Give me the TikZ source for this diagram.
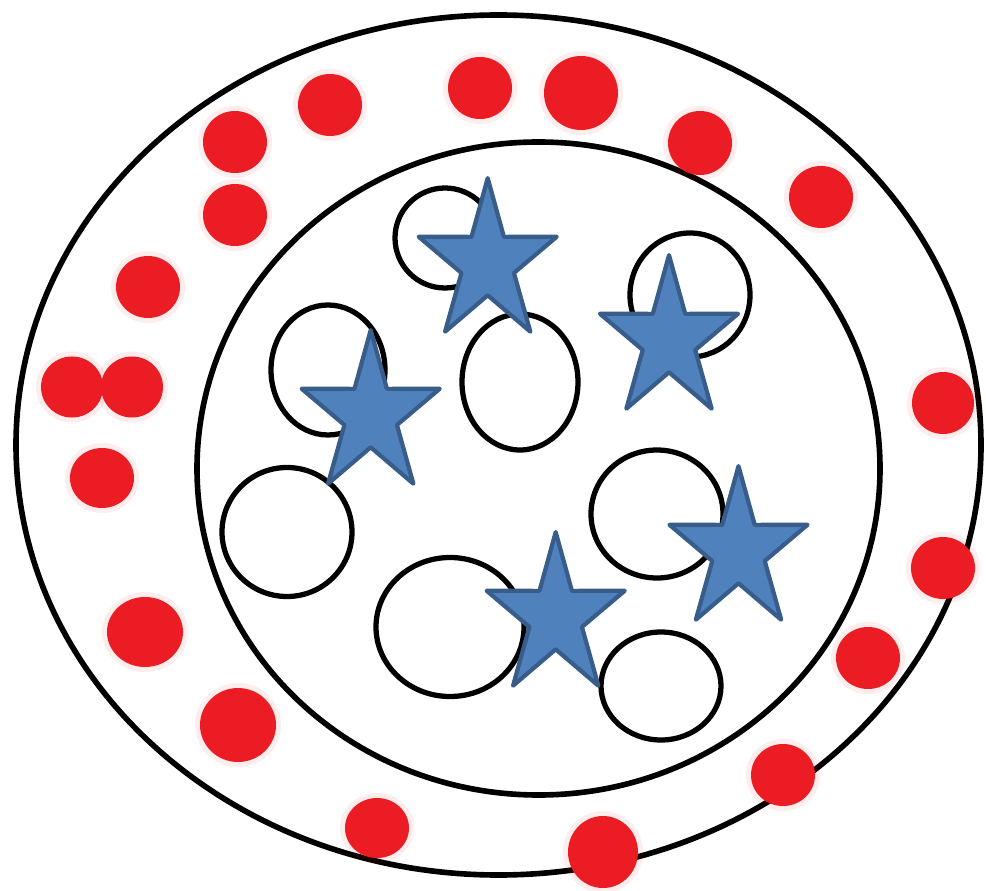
\documentclass[tikz,border=0pt]{standalone}
\definecolor{dotred}{RGB}{236,28,36}
\definecolor{starfill}{RGB}{79,129,189}
\definecolor{starline}{RGB}{56,93,138}
\begin{document}
\begin{tikzpicture}[x=0.02cm,y=-0.02cm,
  ring/.style={draw=black,line width=3.2pt},
  cell/.style={draw=black,line width=3pt},
  dot/.style={fill=dotred},
  halo/.style={fill=dotred,opacity=0.08},
  bluestar/.pic={\draw[fill=starfill,draw=starline,line width=2.4pt,line join=round]
    (0,-84.9) -- (16.22,-26.13) -- (69.05,-26.25) -- (26.25,9.98) -- (42.67,68.72)
    -- (0,32.29) -- (-42.67,68.72) -- (-26.25,9.98) -- (-69.05,-26.25) -- (-16.22,-26.13) -- cycle;}]
\useasboundingbox (0,0) rectangle (986,891);
\fill[white] (0,0) rectangle (986,891);
% rings
\draw[ring] (498.5,445) ellipse [x radius=482.5, y radius=430];
\draw[ring] (538.5,468.5) ellipse [x radius=341.5, y radius=326.5];
% cells
\draw[cell] (445,238) ellipse [x radius=50, y radius=50];
\draw[cell] (690,295) ellipse [x radius=60, y radius=62];
\draw[cell] (328,370) ellipse [x radius=57, y radius=65];
\draw[cell] (520,382) ellipse [x radius=58, y radius=68];
\draw[cell] (287,532) ellipse [x radius=65, y radius=64.5];
\draw[cell] (657,514) ellipse [x radius=66, y radius=64];
\draw[cell] (450,627) ellipse [x radius=74, y radius=69.5];
\draw[cell] (661,686) ellipse [x radius=60, y radius=54];
% red dots
\foreach \x/\y/\rx/\ry in {
  330/105/32/31, 480/88/32/31, 581/93/37/37, 700/143/32/32, 821/197/32/31,
  235/142/32/31, 235/215/32/31, 148/287/32/31, 72/387/31/30.5, 132/387/31/30.5,
  102/478/32/30, 145/632/38/35, 238/725/38/37, 377/828/32/30,
  603/852/35/36, 783/775/32/31, 868/658/32/31, 943/568/32/31, 943/403/31/31}
{
  \fill[halo] (\x,\y) ellipse [x radius=\rx+5, y radius=\ry+5];
  \fill[dot] (\x,\y) ellipse [x radius=\rx, y radius=\ry];
}
% stars
\pic at (487.7,263) {bluestar};
\pic at (669,340) {bluestar};
\pic at (370.7,415) {bluestar};
\pic at (738.5,551) {bluestar};
\pic at (555.7,617) {bluestar};
\end{tikzpicture}
\end{document}
